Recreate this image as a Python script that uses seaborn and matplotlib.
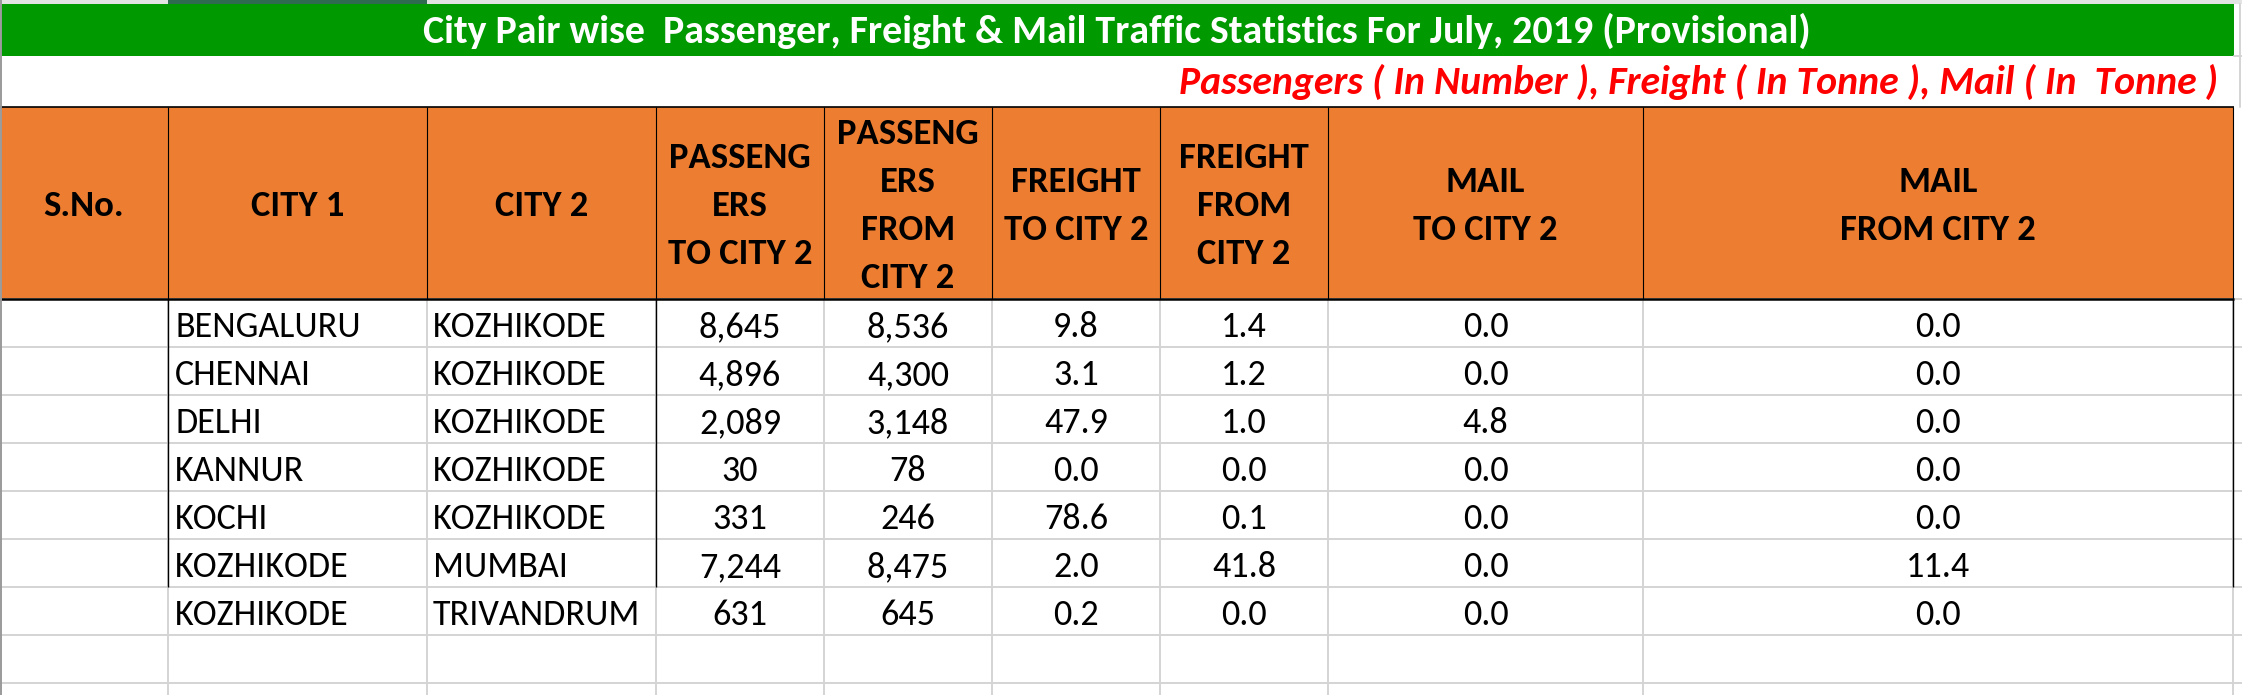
import matplotlib
matplotlib.use("Agg")
import matplotlib.pyplot as plt
import seaborn as sns
from matplotlib.patches import Rectangle
from matplotlib import font_manager

# ---------------- data ----------------
city1 = ["BENGALURU", "CHENNAI", "DELHI", "KANNUR", "KOCHI", "KOZHIKODE", "KOZHIKODE"]
city2 = ["KOZHIKODE", "KOZHIKODE", "KOZHIKODE", "KOZHIKODE", "KOZHIKODE", "MUMBAI", "TRIVANDRUM"]
pax_to = [8645, 4896, 2089, 30, 331, 7244, 631]
pax_from = [8536, 4300, 3148, 78, 246, 8475, 645]
freight_to = [9.8, 3.1, 47.9, 0.0, 78.6, 2.0, 0.2]
freight_from = [1.4, 1.2, 1.0, 0.0, 0.1, 41.8, 0.0]
mail_to = [0.0, 0.0, 4.8, 0.0, 0.0, 0.0, 0.0]
mail_from = [0.0, 0.0, 0.0, 0.0, 0.0, 11.4, 0.0]

headers = [
    ["S.No."],
    ["CITY 1"],
    ["CITY 2"],
    ["PASSENG", "ERS", "TO CITY 2"],
    ["PASSENG", "ERS", "FROM", "CITY 2"],
    ["FREIGHT", "TO CITY 2"],
    ["FREIGHT", "FROM", "CITY 2"],
    ["MAIL", "TO CITY 2"],
    ["MAIL", "FROM CITY 2"],
]
title = "City Pair wise  Passenger, Freight & Mail Traffic Statistics For July, 2019 (Provisional)"
subtitle = "Passengers ( In Number ), Freight ( In Tonne ), Mail ( In  Tonne )"

# ---------------- style ----------------
sns.set_theme(style="white")
installed = {f.name for f in font_manager.fontManager.ttflist}
narrow = None
for cand in ["Carlito", "Liberation Sans Narrow", "Roboto Condensed", "Open Sans Condensed"]:
    if cand in installed:
        narrow = cand
        break
fam = [narrow, "Liberation Sans", "DejaVu Sans"] if narrow else ["Liberation Sans", "DejaVu Sans"]
plt.rcParams['font.family'] = fam

GREEN = "#009900"
ORANGE = "#ED7D31"
GRID = "#d4d4d4"

W, H = 2242, 695
fig = plt.figure(figsize=(W / 100, H / 100), dpi=100)
ax = fig.add_axes([0, 0, 1, 1])
ax.set_xlim(0, W)
ax.set_ylim(H, 0)
ax.axis("off")

col_edges = [0, 168, 427, 656, 824, 992, 1160, 1328, 1643, 2233]
TABLE_R = 2234
HDR_TOP, HDR_BOT = 107, 299
ROW_H = 48
n = len(city1)

renderer = fig.canvas.get_renderer()


def fit_width(t, target, max_fs=40):
    for _ in range(3):
        w = t.get_window_extent(renderer).width
        t.set_fontsize(min(max_fs, t.get_fontsize() * target / w))
    return t.get_fontsize()


# calibrate body / header font sizes from measured widths in the reference
probe = ax.text(0, 0, "BENGALURU", fontsize=20)
FS = fit_width(probe, 186)
probe.remove()
probe = ax.text(0, 0, "FROM CITY 2", fontsize=20, fontweight="bold")
FSH = fit_width(probe, 196)
probe.remove()

# top strip
ax.add_patch(Rectangle((0, 0), W, 4, color="#e3e3e3", lw=0, zorder=1))
ax.add_patch(Rectangle((168, 0), 259, 4, color="#2f6b50", lw=0, zorder=2))

# green title band
ax.add_patch(Rectangle((1, 4), TABLE_R - 1, 52, color=GREEN, lw=0, zorder=1))
# orange header
ax.add_patch(Rectangle((1, HDR_TOP), TABLE_R - 1, HDR_BOT - HDR_TOP, color=ORANGE, lw=0, zorder=1))

# grid lines in data area
y = HDR_BOT
while y <= H:
    ax.plot([0, W], [y, y], color=GRID, lw=1.4, zorder=2, solid_capstyle="butt")
    y += ROW_H
for xe in col_edges[1:]:
    ax.plot([xe, xe], [HDR_BOT, H], color=GRID, lw=1.4, zorder=2, solid_capstyle="butt")
# right side gridlines outside table
ax.plot([TABLE_R, W], [56, 56], color=GRID, lw=1.4, zorder=2)
ax.plot([2240, 2240], [4, HDR_TOP], color=GRID, lw=1.4, zorder=2)

# black borders
ax.plot([0, TABLE_R], [HDR_TOP, HDR_TOP], color="black", lw=1.2, zorder=4, solid_capstyle="butt")
ax.plot([0, TABLE_R], [HDR_BOT, HDR_BOT], color="black", lw=1.8, zorder=4, solid_capstyle="butt")
for xe in col_edges[1:]:
    ax.plot([xe, xe], [HDR_TOP, HDR_BOT], color="black", lw=0.8, zorder=4, solid_capstyle="butt")
black_end = HDR_BOT + ROW_H * (n - 1)
for xe in [168, 656, 2233]:
    ax.plot([xe, xe], [HDR_BOT, black_end], color="black", lw=1.0, zorder=4, solid_capstyle="butt")
# window left border
ax.plot([0.5, 0.5], [0, H], color="#9a9a9a", lw=1.4, zorder=5)

# title
t = ax.text(1117, 43, title, ha="center", va="baseline", color="white",
            fontweight="bold", fontsize=24, zorder=6)
fit_width(t, 1389)

# subtitle
s = ax.text(2218, 94, subtitle, ha="right", va="baseline", color="red",
            fontweight="bold", fontstyle="italic", fontsize=22, zorder=6)
fit_width(s, 1040)

# headers
for i, lines in enumerate(headers):
    cx = (col_edges[i] + col_edges[i + 1]) / 2
    k = len(lines)
    for j, ln in enumerate(lines):
        by = 216.5 + (j - (k - 1) / 2) * 48
        ax.text(cx, by, ln, ha="center", va="baseline", color="black",
                fontweight="bold", fontsize=FSH, zorder=6)


# data
def center(ci):
    return (col_edges[ci] + col_edges[ci + 1]) / 2


for r in range(n):
    by = HDR_BOT + r * ROW_H + 38
    ax.text(col_edges[1] + 7, by, city1[r], ha="left", va="baseline", fontsize=FS, color="black", zorder=6)
    ax.text(col_edges[2] + 6, by, city2[r], ha="left", va="baseline", fontsize=FS, color="black", zorder=6)
    vals = [f"{pax_to[r]:,}", f"{pax_from[r]:,}", f"{freight_to[r]:.1f}", f"{freight_from[r]:.1f}",
            f"{mail_to[r]:.1f}", f"{mail_from[r]:.1f}"]
    for k, v in enumerate(vals):
        ax.text(center(3 + k), by, v, ha="center", va="baseline", fontsize=FS, color="black", zorder=6)

fig.savefig("out.png", dpi=100, facecolor="white")
